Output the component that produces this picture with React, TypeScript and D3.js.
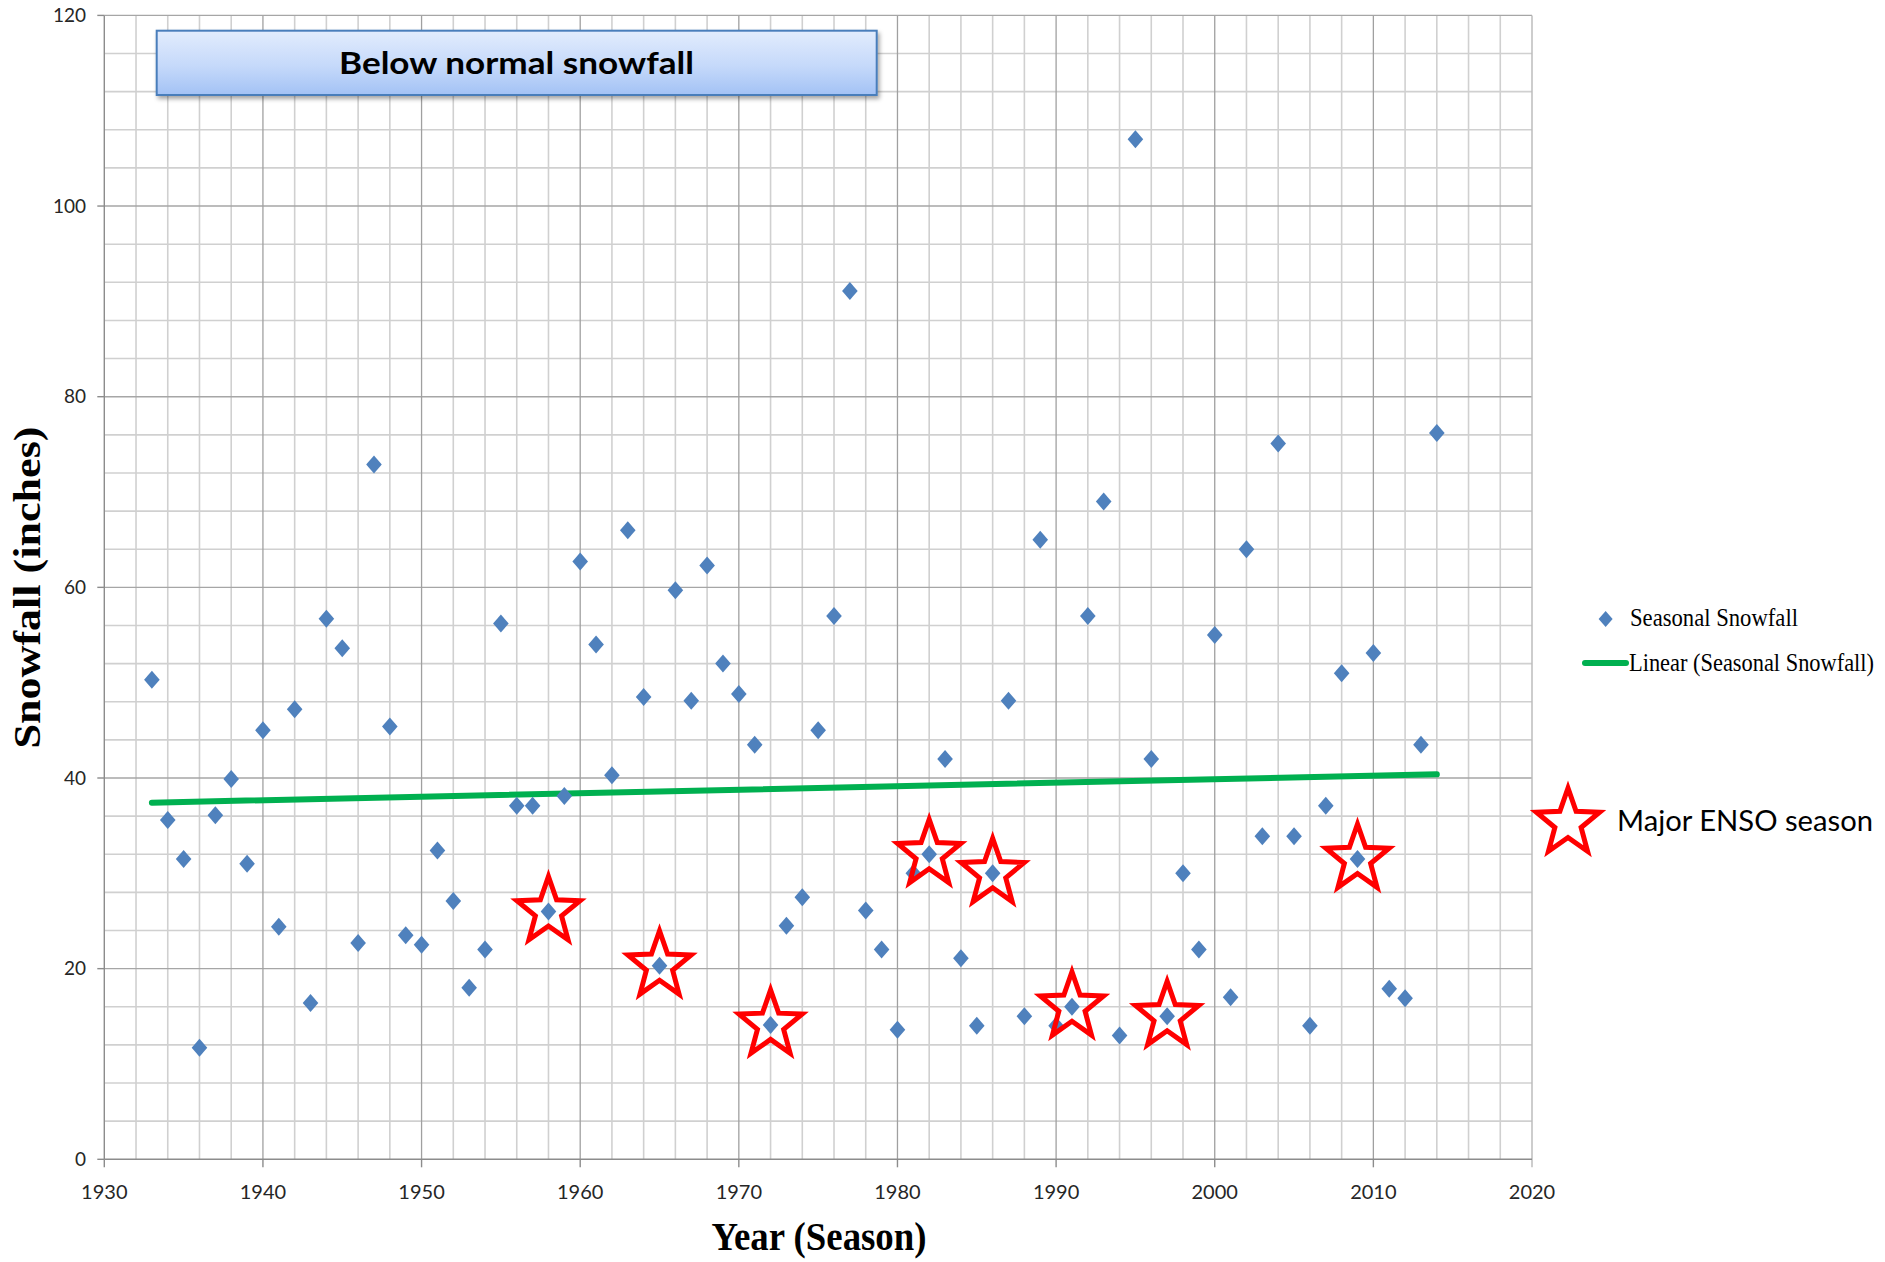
import React from "react";
import * as d3 from "d3";

const seasons = [
  1933, 1934, 1935, 1936, 1937, 1938, 1939, 1940, 1941, 1942,
  1943, 1944, 1945, 1946, 1947, 1948, 1949, 1950, 1951, 1952,
  1953, 1954, 1955, 1956, 1957, 1958, 1959, 1960, 1961, 1962,
  1963, 1964, 1965, 1966, 1967, 1968, 1969, 1970, 1971, 1972,
  1973, 1974, 1975, 1976, 1977, 1978, 1979, 1980, 1981, 1982,
  1983, 1984, 1985, 1986, 1987, 1988, 1989, 1990, 1991, 1992,
  1993, 1994, 1995, 1996, 1997, 1998, 1999, 2000, 2001, 2002,
  2003, 2004, 2005, 2006, 2007, 2008, 2009, 2010, 2011, 2012,
  2013, 2014,
];

const snowfall = [
  50.3, 35.6, 31.5, 11.7, 36.1, 39.9, 31.0, 45.0, 24.4, 47.2,
  16.4, 56.7, 53.6, 22.7, 72.9, 45.4, 23.5, 22.5, 32.4, 27.1,
  18.0, 22.0, 56.2, 37.1, 37.1, 26.0, 38.1, 62.7, 54.0, 40.3,
  66.0, 48.5, 20.3, 59.7, 48.1, 62.3, 52.0, 48.8, 43.5, 14.1,
  24.5, 27.5, 45.0, 57.0, 91.1, 26.1, 22.0, 13.6, 30.0, 32.0,
  42.0, 21.1, 14.0, 30.0, 48.1, 15.0, 65.0, 14.0, 16.0, 57.0,
  69.0, 13.0, 107.0, 42.0, 15.0, 30.0, 22.0, 55.0, 17.0, 64.0,
  33.9, 75.1, 33.9, 14.0, 37.1, 51.0, 31.5, 53.1, 17.9, 16.9,
  43.5, 76.2,
];

const ensoSeasons = [1958, 1965, 1972, 1982, 1986, 1991, 1997, 2009];

const xTickValues = [1930, 1940, 1950, 1960, 1970, 1980, 1990, 2000, 2010, 2020];
const yTickValues = [0, 20, 40, 60, 80, 100, 120];

const titleText = "Below normal snowfall";
const xTitle = "Year (Season)";
const yTitle = "Snowfall (inches)";
const seriesName = "Seasonal Snowfall";
const trendName = "Linear (Seasonal Snowfall)";
const ensoName = "Major ENSO season";

const BLUE = "#4f81bd";
const GREEN = "#00b050";
const RED = "#ff0000";

function starPath(cx: number, cy: number, R: number, r: number, sx: number) {
  const pts: string[] = [];
  for (let i = 0; i < 10; i++) {
    const a = (i * Math.PI) / 5;
    const rad = i % 2 === 0 ? R : r;
    pts.push(`${(cx + sx * rad * Math.sin(a)).toFixed(2)},${(cy - rad * Math.cos(a)).toFixed(2)}`);
  }
  return "M" + pts.join("L") + "Z";
}

function diamondPath(cx: number, cy: number, hw: number, hh: number) {
  return `M${cx},${cy - hh}L${cx + hw},${cy}L${cx},${cy + hh}L${cx - hw},${cy}Z`;
}

export default function App() {
  const x = d3.scaleLinear().domain([1930, 2020]).range([104.3, 1532]);
  const y = d3.scaleLinear().domain([0, 120]).range([1159.3, 15.4]);

  const minorX = d3.range(1932, 2020, 2).filter((v) => v % 10 !== 0);
  const majorX = d3.range(1940, 2020, 10);
  const minorY = d3.range(4, 120, 4).filter((v) => v % 20 !== 0);
  const majorY = d3.range(20, 120, 20);

  // linear trend (least squares)
  const mx = d3.mean(seasons) as number;
  const my = d3.mean(snowfall) as number;
  let sxy = 0, sxx = 0;
  seasons.forEach((s, i) => {
    sxy += (s - mx) * (snowfall[i] - my);
    sxx += (s - mx) * (s - mx);
  });
  const slope = sxy / sxx;
  const icpt = my - slope * mx;
  const x0 = seasons[0];
  const x1 = seasons[seasons.length - 1];
  const trend = d3.line<number>().x((d) => x(d)).y((d) => y(icpt + slope * d));

  const [xL, xR] = x.range();
  const [yB, yT] = y.range();

  const starR = 35, starr = 14.5, starSx = 0.95;

  return (
    <svg width={1885} height={1262} style={{ position: "absolute", left: 0, top: 0, display: "block", background: "#fff" }}>
      <defs>
        <linearGradient id="titleGrad" x1="0" y1="0" x2="0" y2="1">
          <stop offset="0" stopColor="#e2ecfd" />
          <stop offset="0.55" stopColor="#c5d9fa" />
          <stop offset="1" stopColor="#a3c2f5" />
        </linearGradient>
        <filter id="shadow" x="-5%" y="-20%" width="110%" height="150%">
          <feDropShadow dx="2" dy="3" stdDeviation="2" floodColor="#000" floodOpacity="0.35" />
        </filter>
      </defs>
      <rect x={0} y={0} width={1885} height={1262} fill="#fff" />

      {/* grid */}
      <g>
        {minorY.map((v) => (
          <line key={"my" + v} x1={xL} x2={xR} y1={y(v)} y2={y(v)} stroke="#d0d0d0" strokeWidth={1.6} />
        ))}
        {minorX.map((v) => (
          <line key={"mx" + v} x1={x(v)} x2={x(v)} y1={yT} y2={yB} stroke="#d0d0d0" strokeWidth={1.6} />
        ))}
        {majorY.map((v) => (
          <line key={"My" + v} x1={xL} x2={xR} y1={y(v)} y2={y(v)} stroke="#a6a6a6" strokeWidth={1.4} />
        ))}
        {majorX.map((v) => (
          <line key={"Mx" + v} x1={x(v)} x2={x(v)} y1={yT} y2={yB} stroke="#a0a0a0" strokeWidth={1.3} />
        ))}
        <line x1={xL} x2={xR} y1={yT} y2={yT} stroke="#a6a6a6" strokeWidth={1.4} />
        <line x1={xR} x2={xR} y1={yT} y2={yB + 8} stroke="#bdbdbd" strokeWidth={1.5} />
      </g>

      {/* axes */}
      <g>
        <line x1={xL} x2={xL} y1={yT} y2={yB} stroke="#8c8c8c" strokeWidth={1.4} />
        <line x1={xL} x2={xR} y1={yB} y2={yB} stroke="#8c8c8c" strokeWidth={1.4} />
        {yTickValues.map((v) => (
          <g key={"yt" + v}>
            <line x1={xL - 7} x2={xL} y1={y(v)} y2={y(v)} stroke="#8c8c8c" strokeWidth={1.4} />
            <text x={86} y={y(v)} dy="0.35em" textAnchor="end" fontFamily="Lato, 'Open Sans', sans-serif" fontSize={19} fill="#262626">
              {v}
            </text>
          </g>
        ))}
        {xTickValues.map((v) => (
          <g key={"xt" + v}>
            {v < 2020 && <line x1={x(v)} x2={x(v)} y1={yB} y2={yB + 8} stroke="#8c8c8c" strokeWidth={1.4} />}
            <text x={x(v)} y={1199} textAnchor="middle" fontFamily="Lato, 'Open Sans', sans-serif" fontSize={20} fill="#262626">
              {v}
            </text>
          </g>
        ))}
      </g>

      {/* trend line */}
      <path d={trend([x0, x1]) as string} stroke={GREEN} strokeWidth={6} fill="none" strokeLinecap="round" />

      {/* points */}
      <g>
        {seasons.map((s, i) => (
          <path key={"p" + s} d={diamondPath(x(s), y(snowfall[i]), 7.8, 9)} fill={BLUE} />
        ))}
      </g>

      {/* ENSO stars */}
      <g>
        {ensoSeasons.map((s) => {
          const v = snowfall[seasons.indexOf(s)];
          return (
            <path key={"s" + s} d={starPath(x(s), y(v), starR, starr, starSx)} fill="none" stroke={RED} strokeWidth={5} strokeLinejoin="miter" />
          );
        })}
      </g>

      {/* title box */}
      <g>
        <rect x={156.7} y={30.7} width={720} height={64.3} fill="url(#titleGrad)" stroke="#4a7ebb" strokeWidth={2} filter="url(#shadow)" />
        <text x={516.5} y={74} textAnchor="middle" fontFamily="Lato, 'Open Sans', sans-serif" fontWeight="bold" fontSize={31} textLength={355} lengthAdjust="spacingAndGlyphs" fill="#000">
          {titleText}
        </text>
      </g>

      {/* axis titles */}
      <text x={819} y={1250} textAnchor="middle" fontFamily="'Liberation Serif', 'Times New Roman', serif" fontWeight="bold" fontSize={40} textLength={215} lengthAdjust="spacingAndGlyphs" fill="#000">
        {xTitle}
      </text>
      <text transform={`translate(40,587.5) rotate(-90)`} x={0} y={0} textAnchor="middle" fontFamily="'Liberation Serif', 'Times New Roman', serif" fontWeight="bold" fontSize={38} textLength={322} lengthAdjust="spacingAndGlyphs" fill="#000">
        {yTitle}
      </text>

      {/* legend */}
      <g>
        <path d={diamondPath(1605.6, 619, 7, 8)} fill={BLUE} />
        <text x={1630} y={625.7} fontFamily="'Liberation Serif', 'Times New Roman', serif" fontSize={26} textLength={168} lengthAdjust="spacingAndGlyphs" fill="#000">
          {seriesName}
        </text>
        <line x1={1585} x2={1626} y1={663} y2={663} stroke={GREEN} strokeWidth={6} strokeLinecap="round" />
        <text x={1629} y={670.7} fontFamily="'Liberation Serif', 'Times New Roman', serif" fontSize={26} textLength={245} lengthAdjust="spacingAndGlyphs" fill="#000">
          {trendName}
        </text>
        <path d={starPath(1568, 823, starR, starr, starSx)} fill="none" stroke={RED} strokeWidth={5} />
        <text x={1617} y={830.7} fontFamily="Lato, 'Open Sans', sans-serif" fontSize={29} textLength={256} lengthAdjust="spacingAndGlyphs" fill="#000">
          {ensoName}
        </text>
      </g>
    </svg>
  );
}
